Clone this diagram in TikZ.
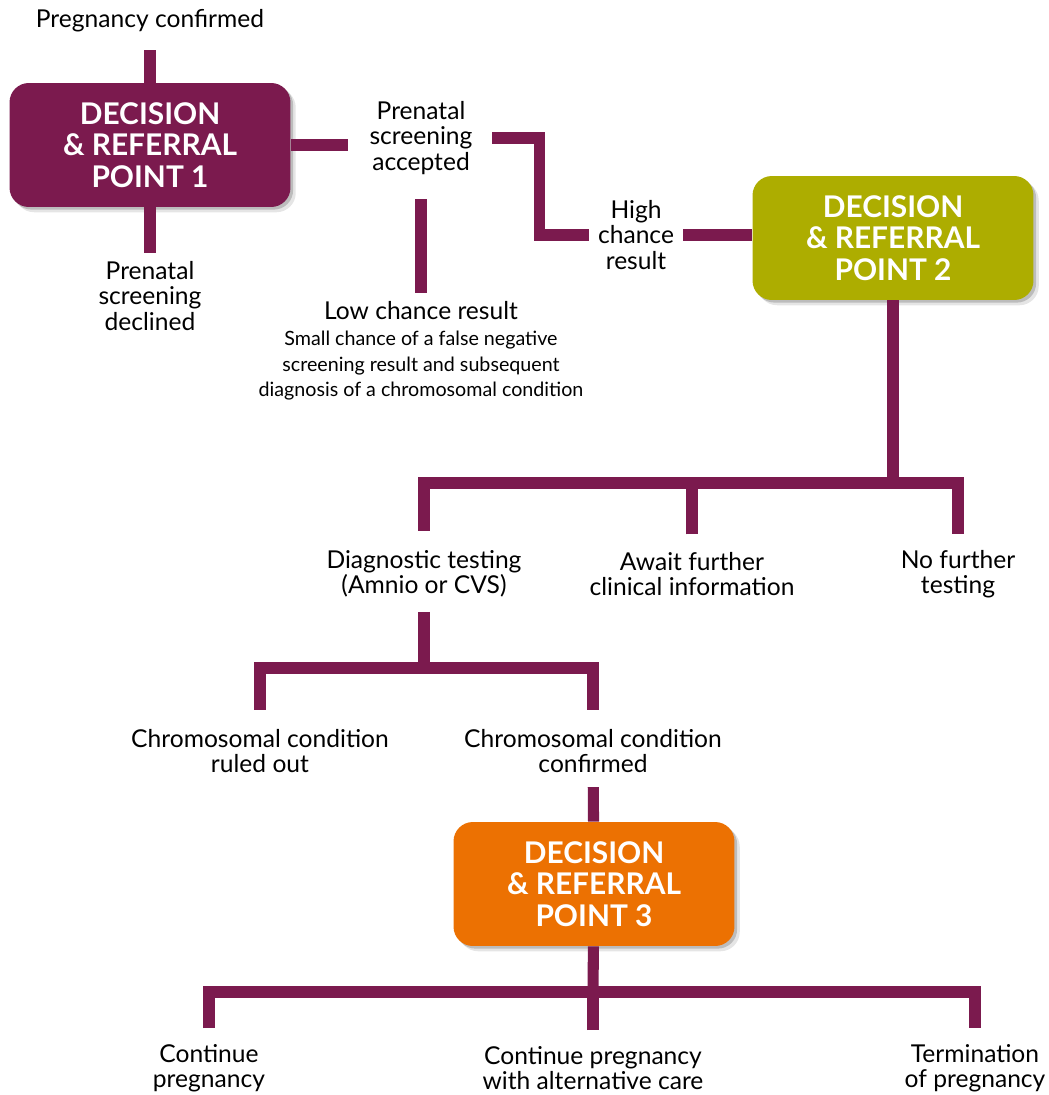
\documentclass[tikz,border=0pt]{standalone}
\usepackage{fontspec}
\setmainfont{Lato}
\usetikzlibrary{
    positioning,      % relative placement
    calc,             % coordinate calculations
    shadows           % soft shadow under the boxes
}

\definecolor{dpPlum}{HTML}{7B1A4E}
\definecolor{dpOlive}{HTML}{ADAD00}
\definecolor{dpOrange}{HTML}{EC7102}

\begin{document}
\begin{tikzpicture}[
    x=0.02cm, y=-0.02cm, % work in pixels of the reference, y going down
    decision/.style={ % the three rounded decision boxes
        rounded corners=11pt,
        minimum width=5.62cm,
        minimum height=2.48cm,
        text=white,
        align=center,
        font=\bfseries\fontsize{17}{17.8}\selectfont,
        drop shadow={shadow xshift=1.5pt, shadow yshift=-1.5pt, opacity=0.18, fill=black},
        drop shadow={shadow xshift=3pt, shadow yshift=-3pt, opacity=0.1, fill=black}
    },
    label/.style={ % plain outcome texts
        align=center,
        inner sep=5pt,
        font=\fontsize{14}{14.3}\selectfont
    },
    note/.style={ % the small print under "Low chance result"
        align=center,
        inner sep=2pt,
        font=\fontsize{11.2}{14.3}\selectfont
    },
    link/.style={ % thick plum connectors
        draw=dpPlum,
        line width=6.3pt,
        line cap=butt,
        line join=miter
    }
]
    \useasboundingbox (0,0) rectangle (1048,1095);

    % 1. Decision boxes
    \node[decision, fill=dpPlum] (dp1) at (150,145) {DECISION\\\& REFERRAL\\POINT 1};
    \node[decision, fill=dpOlive] (dp2) at (893,238) {DECISION\\\& REFERRAL\\POINT 2};
    \node[decision, fill=dpOrange] (dp3) at (594,884) {DECISION\\\& REFERRAL\\POINT 3};

    % 2. Texts round the first box
    \node[label] (confirmed) at (150,21) {Pregnancy confirmed};
    \node[label] (declined) at (150,296) {Prenatal\\screening\\declined};
    \node[label] (accepted) at (421,138) {Prenatal\\screening\\accepted};
    \node[label] (high) at (636,235) {High\\chance\\result};
    \node[label] (lowres) at (421,311) {Low chance result};
    \node[note, below=-1pt of lowres] (lownote) {Small chance of a false negative\\screening result and subsequent\\diagnosis of a chromosomal condition};

    % 3. Texts under the second box
    \node[label] (diag) at (424,574) {Diagnostic testing\\(Amnio or CVS)};
    \node[label] (await) at (692,574) {Await further\\clinical information};
    \node[label] (nofurther) at (958,574) {No further\\testing};
    \node[label] (ruledout) at (260,751) {Chromosomal condition\\ruled out};
    \node[label] (ccconfirmed) at (593,751) {Chromosomal condition\\confirmed};

    % 4. Texts under the third box
    \node[label] (cont) at (209,1068) {Continue\\pregnancy};
    \node[label] (alt) at (593,1068) {Continue pregnancy\\with alternative care};
    \node[label] (term) at (975,1068) {Termination\\of pregnancy};

    % split points of the branching bars
    \coordinate (split2) at (893,483);
    \coordinate (split3) at (424,668);
    \coordinate (split4) at (593,992);

    % 5. Connectors
    \draw[link, shorten <=5pt] (confirmed) -- (dp1);
    \draw[link] (dp1) -- (declined);
    \draw[link, shorten >=7pt] (dp1.east) -- (dp1.east -| accepted.west);
    \draw[link, shorten <=6pt] (accepted.east) -- ++(58,0) |- (high.west);
    \draw[link] (high.east) -- (high.east -| dp2.west);
    \draw[link, shorten <=9pt] (accepted.south) -- (lowres.north);

    \draw[link] (dp2) -- (split2);
    \draw[link, shorten <=6pt, shorten >=4pt] (diag.north) -- (diag.north |- split2) -- (nofurther.north |- split2) -- (nofurther.north);
    \draw[link, shorten <=5pt] (await.north) -- (await.north |- split2);

    \draw[link, shorten <=3pt] (diag) -- (split3);
    \draw[link, shorten <=6pt, shorten >=6pt] (ruledout.north) -- (ruledout.north |- split3) -- (ccconfirmed.north |- split3) -- (ccconfirmed.north);

    \draw[link, shorten <=3pt] (ccconfirmed) -- (dp3);
    \draw[link] (dp3) -- (split4);
    \draw[link, shorten <=4pt, shorten >=4pt] (cont.north) -- (cont.north |- split4) -- (term.north |- split4) -- (term.north);
    \draw[link, shorten <=4pt] (alt.north) -- (alt.north |- split4);

\end{tikzpicture}
\end{document}
